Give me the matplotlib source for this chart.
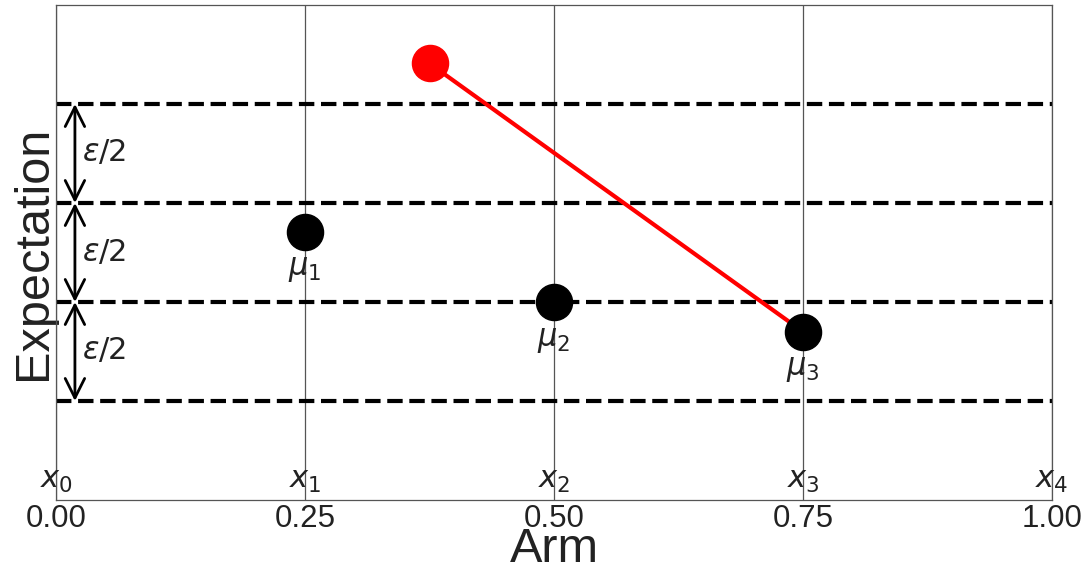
import numpy as np
import matplotlib.pyplot as plt

plt.rcParams['font.family'] = ['Liberation Sans', 'DejaVu Sans']
plt.rcParams['mathtext.fontset'] = 'dejavusans'

# datos (unidades de epsilon/2)
niveles = [0, 1, 2, 3]
brazos_x = [0.25, 0.5, 0.75]
medias = [1.71, 1.0, 0.70]
etiquetas_mu = [r'$\mu_1$', r'$\mu_2$', r'$\mu_3$']
rojo_x, rojo_y = 0.375, 3.41
ticks_x = [0.0, 0.25, 0.5, 0.75, 1.0]
etiquetas_x = [r'$x_0$', r'$x_1$', r'$x_2$', r'$x_3$', r'$x_4$']

fig = plt.figure(figsize=(10.88, 5.75), dpi=100)
ax = fig.add_axes([56/1088, 75/575, 996/1088, 495/575])

# lineas discontinuas
for n in niveles:
    ax.axhline(n, color='black', linestyle='--', lw=3, zorder=2)

# flechas epsilon/2
for i in range(len(niveles) - 1):
    ax.annotate('', xy=(0.019, niveles[i]), xytext=(0.019, niveles[i + 1]),
                arrowprops=dict(arrowstyle='<->', lw=2, color='black',
                                mutation_scale=35, shrinkA=0, shrinkB=0))
    ax.text(0.026, (niveles[i] + niveles[i + 1]) / 2, r'$\varepsilon/2$',
            fontsize=22, va='center', ha='left', color='#222222')

# linea roja y puntos
ax.plot([rojo_x, brazos_x[2]], [rojo_y, medias[2]], color='red', lw=3, zorder=3)
ax.plot(rojo_x, rojo_y, 'o', color='red', markersize=26, zorder=4)
ax.plot(brazos_x, medias, 'o', color='black', markersize=26, zorder=4, linestyle='none')

for x, m, lab in zip(brazos_x, medias, etiquetas_mu):
    ax.text(x, m - 0.38, lab, fontsize=22, ha='center', va='center', color='#222222')

for x, lab in zip(ticks_x, etiquetas_x):
    ax.text(x, -0.8, lab, fontsize=22, ha='center', va='center', color='#222222')

ax.set_xlim(0, 1)
ax.set_ylim(-1, 4)
ax.set_xticks(ticks_x)
ax.set_xticklabels(['0.00', '0.25', '0.50', '0.75', '1.00'])
ax.set_yticks([])
ax.tick_params(axis='x', length=0, labelsize=22.5, pad=3, labelcolor='#222222')
ax.grid(axis='x', color='#555555', lw=0.9, zorder=0)
ax.set_axisbelow(True)
for s in ax.spines.values():
    s.set_color('#555555')
    s.set_linewidth(0.9)

ax.set_xlabel('Arm', fontsize=35, color='#222222', labelpad=-5)
ax.set_ylabel('Expectation', fontsize=35, color='#222222', labelpad=0)

plt.savefig('out.png', dpi=100)
